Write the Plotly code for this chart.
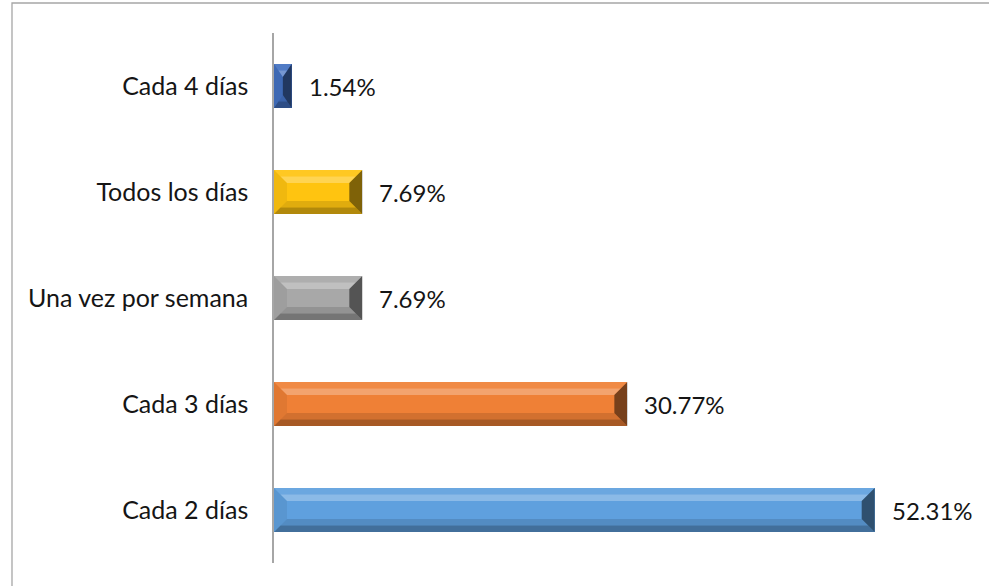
import plotly.graph_objects as go

# ---- data (bottom to top) ----
categories = ["Cada 2 días", "Cada 3 días", "Una vez por semana", "Todos los días", "Cada 4 días"]
values = [52.31, 30.77, 7.69, 7.69, 1.54]
colors = ["#5FA0DE", "#EF8036", "#A8A8A8", "#FFC410", "#4270C0"]

W, H = 989, 586
L, R, T, B = 274, 26, 33, 23
XMAX = 60
plot_w = W - L - R
plot_h = H - T - B
n = len(categories)
px_x = XMAX / plot_w          # data units per px (x)
px_y = n / plot_h             # data units per px (y)
BAR_W = 0.414
FONT = "Lato, 'Open Sans', sans-serif"

ypos = list(range(n))

fig = go.Figure()
fig.add_trace(go.Bar(
    x=values, y=ypos, orientation="h", width=BAR_W,
    marker=dict(color=colors, line=dict(width=0)),
    hoverinfo="skip", showlegend=False,
))

shapes = []


def poly(pts, fill):
    path = "M " + " L ".join(f"{x},{y}" for x, y in pts) + " Z"
    shapes.append(dict(type="path", xref="x", yref="y", path=path,
                       fillcolor=fill, line=dict(width=0), layer="above"))


for i, v in enumerate(values):
    x0, x1 = 0.0, v
    y0, y1 = i - BAR_W / 2, i + BAR_W / 2
    dx = min(13 * px_x, (x1 - x0) / 2)
    dy = min(13 * px_y, (y1 - y0) / 2)
    ym = y1 - dy / 2
    xa = dx / 2
    # top band: two strips
    poly([(x0, y1), (x1, y1), (x1 - xa, ym), (x0 + xa, ym)], "rgba(255,255,255,0.08)")
    poly([(x0 + xa, ym), (x1 - xa, ym), (x1 - dx, y1 - dy), (x0 + dx, y1 - dy)], "rgba(255,255,255,0.28)")
    # bottom band: two strips
    ymb = y0 + dy / 2
    poly([(x0 + xa, ymb), (x1 - xa, ymb), (x1 - dx, y0 + dy), (x0 + dx, y0 + dy)], "rgba(0,0,0,0.12)")
    poly([(x0, y0), (x1, y0), (x1 - xa, ymb), (x0 + xa, ymb)], "rgba(0,0,0,0.30)")
    # left band
    poly([(x0, y0), (x0, y1), (x0 + dx, y1 - dy), (x0 + dx, y0 + dy)], "rgba(0,0,0,0.06)")
    # right band
    poly([(x1, y0), (x1, y1), (x1 - dx, y1 - dy), (x1 - dx, y0 + dy)], "rgba(0,0,0,0.50)")

# outer chart border (left and top edges visible)
bx0 = (12 - L) / plot_w
by1 = 1 + (T - 3) / plot_h
shapes.append(dict(type="rect", xref="paper", yref="paper",
                   x0=bx0, x1=1.2, y0=-0.2, y1=by1,
                   line=dict(color="#A6A6A6", width=1.3), fillcolor="rgba(0,0,0,0)",
                   layer="below"))

annotations = [
    dict(x=v, y=i, xref="x", yref="y", text=f"{v:.2f}%", showarrow=False,
         xanchor="left", yanchor="middle", xshift=15,
         font=dict(family=FONT, size=24, color="#151515"))
    for i, v in enumerate(values)
]

fig.update_layout(
    width=W, height=H,
    margin=dict(l=L, r=R, t=T, b=B, pad=0),
    paper_bgcolor="white", plot_bgcolor="white",
    shapes=shapes, annotations=annotations,
    xaxis=dict(range=[0, XMAX], showgrid=False, zeroline=False, showline=False,
               showticklabels=False, ticks="", fixedrange=True),
    yaxis=dict(range=[-0.5, n - 0.5], tickvals=ypos, ticktext=categories,
               showgrid=False, zeroline=False, showline=True,
               linecolor="#A6A6A6", linewidth=1.5, ticks="",
               ticklabelstandoff=19, fixedrange=True,
               tickfont=dict(family=FONT, size=25, color="#151515")),
    bargap=0,
)

fig.write_html("out.html", config={"displayModeBar": False},
               post_script="document.body.style.margin='0';document.body.style.overflow='hidden';")
